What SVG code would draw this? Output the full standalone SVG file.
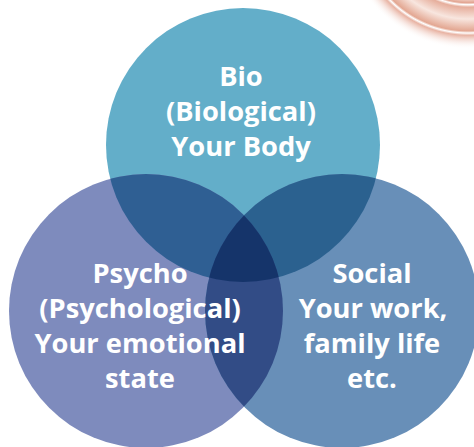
<svg xmlns="http://www.w3.org/2000/svg" width="474" height="447" viewBox="0 0 474 447">
<defs>
<style>
.lbl{font-family:"Open Sans","Liberation Sans",sans-serif;font-weight:700;font-size:27.3px;fill:#ffffff;text-anchor:middle}
</style>
<radialGradient id="rings" gradientUnits="userSpaceOnUse" cx="468" cy="-76" r="125">
<stop offset="0.48" stop-color="#ffffff" stop-opacity="0"/>
<stop offset="0.6" stop-color="#F3D2C6"/>
<stop offset="0.63" stop-color="#E2A592"/>
<stop offset="0.645" stop-color="#ffffff"/>
<stop offset="0.665" stop-color="#E6AE9C"/>
<stop offset="0.76" stop-color="#F8E6DF"/>
<stop offset="0.855" stop-color="#E3A792"/>
<stop offset="0.872" stop-color="#ffffff"/>
<stop offset="0.89" stop-color="#E8B3A3"/>
<stop offset="1" stop-color="#ffffff" stop-opacity="0"/>
</radialGradient>
<clipPath id="cT"><circle cx="243" cy="145" r="137"/></clipPath>
<clipPath id="cL"><circle cx="146" cy="311" r="137"/></clipPath>
<clipPath id="cR"><circle cx="342" cy="311" r="137"/></clipPath>
</defs>
<rect width="474" height="447" fill="#ffffff"/>
<circle cx="468" cy="-76" r="125" fill="url(#rings)"/>
<g id="bio"><circle cx="243" cy="145" r="137" fill="#63AEC9"/></g>
<g id="psycho"><circle cx="146" cy="311" r="137" fill="#7E8BBD"/></g>
<g id="social"><circle cx="342" cy="311" r="137" fill="#688FB8"/></g>
<g id="overlaps">
<circle cx="146" cy="311" r="137" fill="#2F5F93" clip-path="url(#cT)"/>
<circle cx="342" cy="311" r="137" fill="#2B618F" clip-path="url(#cT)"/>
<circle cx="342" cy="311" r="137" fill="#324C86" clip-path="url(#cL)"/>
<g clip-path="url(#cT)"><circle cx="342" cy="311" r="137" fill="#15346A" clip-path="url(#cL)"/></g>
</g>
<g id="labels">
<text class="lbl" x="241" y="86">Bio</text>
<text class="lbl" x="241" y="121">(Biological)</text>
<text class="lbl" x="241" y="156">Your Body</text>
<text class="lbl" x="140" y="283">Psycho</text>
<text class="lbl" x="140" y="318">(Psychological)</text>
<text class="lbl" x="140" y="353">Your emotional</text>
<text class="lbl" x="140" y="388">state</text>
<text class="lbl" x="372" y="283">Social</text>
<text class="lbl" x="373" y="318">Your work,</text>
<text class="lbl" x="372" y="353">family life</text>
<text class="lbl" x="372" y="388">etc.</text>
</g>
</svg>
